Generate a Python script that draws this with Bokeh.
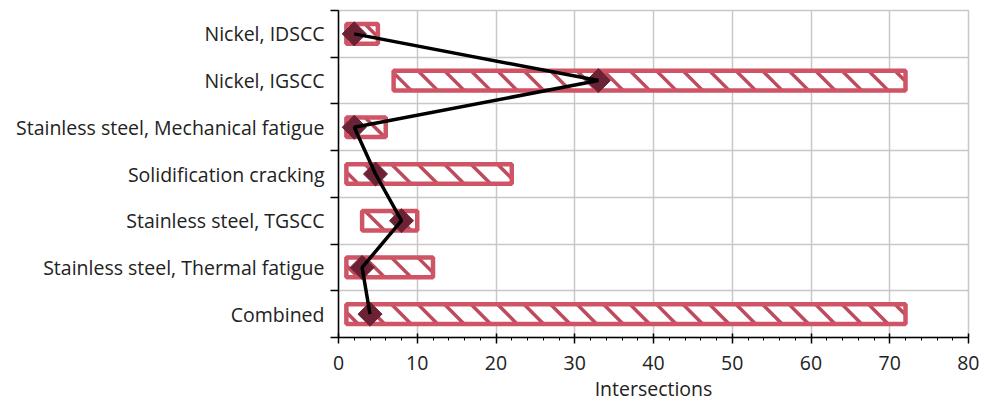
from bokeh.plotting import figure
from bokeh.models import FixedTicker, Range1d, ColumnDataSource
from bokeh.embed import file_html
from bokeh.resources import INLINE
import math

categories = ["Nickel, IDSCC", "Nickel, IGSCC", "Stainless steel, Mechanical fatigue",
              "Solidification cracking", "Stainless steel, TGSCC",
              "Stainless steel, Thermal fatigue", "Combined"]
range_low = [1, 7, 1, 1, 3, 1, 1]
range_high = [5, 72, 6, 22, 10, 12, 72]
point_values = [2, 33, 2, 4.7, 8, 3, 4]
x_ticks = [0, 10, 20, 30, 40, 50, 60, 70, 80]

n = len(categories)
ypos = [n - 0.5 - i for i in range(n)]
BAR_H = 0.42

W, H = 979, 402
BL, BR, BT, BB = 338, 11, 10, 65
FRAME_W = W - BL - BR
FRAME_H = H - BT - BB
XMAX = 80

src = ColumnDataSource(dict(y=ypos, left=range_low, right=range_high, v=point_values))

# 45-degree hatch stripes inside each bar, derived from the bar extents
px_x = FRAME_W / XMAX
px_y = FRAME_H / n
bar_px = BAR_H * px_y
d = bar_px / px_x
spacing = 26.5 / px_x
sx0, sy0, sx1, sy1 = [], [], [], []
for yc, lo, hi in zip(ypos, range_low, range_high):
    ytop = yc + BAR_H / 2
    k = math.floor((lo - d) / spacing)
    while k * spacing < hi:
        xk = k * spacing
        t0 = max(0.0, (lo - xk) / d)
        t1 = min(1.0, (hi - xk) / d)
        if t0 < t1:
            sx0.append(xk + d * t0); sy0.append(ytop - BAR_H * t0)
            sx1.append(xk + d * t1); sy1.append(ytop - BAR_H * t1)
        k += 1

FONT = "Open Sans"
FS = "19.5px"
p = figure(width=W, height=H, output_backend="svg", toolbar_location=None,
           x_range=Range1d(0, XMAX), y_range=Range1d(0, n),
           frame_width=FRAME_W, frame_height=FRAME_H,
           min_border_left=BL, min_border_right=BR, min_border_top=BT, min_border_bottom=BB)

p.outline_line_color = "#c8c8c8"
p.outline_line_width = 1.5

p.hbar(y="y", left="left", right="right", height=BAR_H, source=src,
       fill_color="white", line_color=None)
p.segment(x0=sx0, y0=sy0, x1=sx1, y1=sy1, line_color="#bd4a5d", line_width=3.5)
p.hbar(y="y", left="left", right="right", height=BAR_H, source=src,
       fill_color=None, line_color="#cf5466", line_width=4.5)

p.scatter(x="v", y="y", source=src, marker="square", angle=math.pi / 4, size=17,
          fill_color="#6b2234", line_color="#6b2234")
p.line(x="v", y="y", source=src, line_color="black", line_width=3.5)

# x axis
xa = p.xaxis[0]
xa.ticker = FixedTicker(ticks=x_ticks, minor_ticks=list(range(0, 81, 2)))
xa.axis_label = "Intersections"
xa.axis_label_text_font = FONT
xa.axis_label_text_font_size = FS
xa.axis_label_text_font_style = "normal"
xa.axis_label_text_color = "#222222"
xa.axis_label_standoff = 2
xa.major_label_text_font = FONT
xa.major_label_text_font_size = FS
xa.major_label_text_color = "#222222"
xa.major_label_standoff = 12
xa.axis_line_color = "black"
xa.axis_line_width = 1.5
xa.major_tick_line_color = "black"
xa.major_tick_line_width = 1.5
xa.major_tick_in = 4
xa.major_tick_out = 6
xa.minor_tick_line_color = "black"
xa.minor_tick_in = 0
xa.minor_tick_out = 3

# y axis: labels at centers, ticks at boundaries
ya = p.yaxis[0]
ya.ticker = FixedTicker(ticks=ypos, minor_ticks=list(range(0, n + 1)))
ya.major_label_overrides = {y: c for y, c in zip(ypos, categories)}
ya.major_label_text_font = FONT
ya.major_label_text_font_size = FS
ya.major_label_text_color = "#222222"
ya.major_label_standoff = 6
ya.major_tick_line_color = None
ya.minor_tick_line_color = "black"
ya.minor_tick_line_width = 1.5
ya.minor_tick_in = 0
ya.minor_tick_out = 8
ya.axis_line_color = "black"
ya.axis_line_width = 1.5

p.xgrid.grid_line_color = "#c8c8c8"
p.xgrid.grid_line_width = 1.5
p.ygrid.grid_line_color = None
p.ygrid.minor_grid_line_color = "#c8c8c8"
p.ygrid.minor_grid_line_width = 1.5

open("out.html", "w").write(file_html(p, INLINE))
